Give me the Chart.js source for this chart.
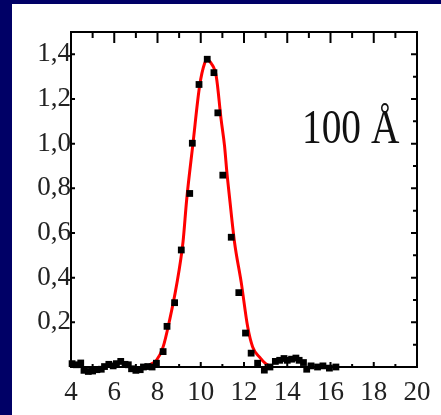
<!DOCTYPE html>
<html>
<head>
<meta charset="utf-8">
<script src="https://cdn.jsdelivr.net/npm/chart.js@4"></script>
<style>
  html, body { margin: 0; padding: 0; background: #000066; width: 441px; height: 415px; overflow: hidden; }
  #panel { position: absolute; left: 12px; top: 4px; width: 429px; height: 411px; background: #fff; }
</style>
</head>
<body>
<div id="panel"><canvas id="chart"></canvas></div>
<script>
// measured intensity (black squares)
const pointX = [4.05, 4.25, 4.45, 4.6, 4.8, 5.0, 5.2, 5.4, 5.55, 5.75, 5.95, 6.1, 6.3, 6.5, 6.65, 6.8, 7.0, 7.2, 7.35, 7.55, 7.75,
                7.95, 8.26, 8.44, 8.79, 9.10, 9.49, 9.61, 9.92, 10.30, 10.61, 10.79, 11.02, 11.41, 11.76, 12.07, 12.33,
                12.63, 12.94, 13.2, 13.45, 13.65, 13.85, 14.0, 14.2, 14.4, 14.55, 14.75, 14.9, 15.1, 15.4, 15.65, 15.95, 16.25];
const pointY = [0.015, 0.010, 0.018, -0.015, -0.020, -0.018, -0.012, -0.010, 0.002, 0.012, 0.005, 0.015, 0.025, 0.012, 0.010, -0.008, -0.015, -0.012, 0.0, 0.002, 0.0,
                0.017, 0.069, 0.182, 0.288, 0.524, 0.777, 1.002, 1.265, 1.378, 1.318, 1.138, 0.859, 0.581, 0.333, 0.152, 0.062,
                0.017, -0.014, 0.0, 0.025, 0.030, 0.038, 0.030, 0.035, 0.040, 0.030, 0.020, -0.010, 0.005, 0.0, 0.005, -0.005, 0.0];

// gaussian fit (red line)
const fitX = [7.64, 7.95, 8.26, 8.56, 8.87, 9.18, 9.35, 9.64, 9.95, 10.18, 10.3, 10.48, 10.72, 10.94, 11.10, 11.21, 11.33, 11.56, 11.87, 12.17, 12.40, 12.71, 13.0, 13.3];
const fitY = [0.01, 0.03, 0.09, 0.21, 0.36, 0.56, 0.75, 1.00, 1.26, 1.36, 1.375, 1.36, 1.30, 1.11, 0.99, 0.87, 0.76, 0.56, 0.38, 0.18, 0.09, 0.045, 0.015, 0.0];

const xTickLabels = [4, 6, 8, 10, 12, 14, 16, 18, 20];
const yTickLabels = [0.2, 0.4, 0.6, 0.8, 1.0, 1.2, 1.4];

const labelFont = { family: "'Liberation Serif', 'DejaVu Serif', serif", size: 27 };

// closed frame with inward ticks on all four sides, plus the size tag
const framePlugin = {
    id: 'frame',
    afterDatasetsDraw(chart) {
        const { ctx, chartArea: a, scales: { x, y } } = chart;
        ctx.save();
        ctx.strokeStyle = '#000';
        ctx.lineWidth = 2;
        ctx.strokeRect(a.left, a.top, a.right - a.left, a.bottom - a.top);

        ctx.beginPath();
        for (let v = x.min; v <= x.max; v++) {
            const px = x.getPixelForValue(v);
            const major = v % 2 === 0;
            ctx.moveTo(px, a.top);
            ctx.lineTo(px, a.top + (major ? 11 : 6));
            ctx.moveTo(px, a.bottom);
            ctx.lineTo(px, a.bottom - (major ? 5 : 3));
        }
        for (let i = 1; i <= 14; i++) {
            const py = y.getPixelForValue(i / 10);
            const major = i % 2 === 0;
            ctx.moveTo(a.right, py);
            ctx.lineTo(a.right - (major ? 6 : 4), py);
            if (major) {
                ctx.moveTo(a.left, py);
                ctx.lineTo(a.left + 4, py);
            }
        }
        ctx.stroke();

        ctx.fillStyle = '#111';
        ctx.font = "48px 'Liberation Serif', serif";
        ctx.textBaseline = 'alphabetic';
        ctx.translate(290, 139);
        ctx.scale(0.82, 1);
        ctx.fillText('100 Å', 0, 0);
        ctx.restore();
    }
};

new Chart(document.getElementById('chart'), {
    type: 'scatter',
    data: {
        datasets: [
            {
                data: pointX.map((v, i) => ({ x: v, y: pointY[i] })),
                pointStyle: 'rect',
                pointRadius: 4.8,
                backgroundColor: '#000',
                borderColor: '#000',
                borderWidth: 0,
                clip: false,
                order: 0
            },
            {
                data: fitX.map((v, i) => ({ x: v, y: fitY[i] })),
                showLine: true,
                borderColor: '#ff0000',
                borderWidth: 3,
                pointRadius: 0,
                cubicInterpolationMode: 'monotone',
                clip: false,
                order: 1
            }
        ]
    },
    options: {
        responsive: true,
        maintainAspectRatio: false,
        animation: false,
        layout: { padding: { top: 28, right: 24, left: 4, bottom: 8 } },
        plugins: { legend: { display: false }, tooltip: { enabled: false } },
        scales: {
            x: {
                type: 'linear',
                min: 4,
                max: 20,
                afterBuildTicks: s => { s.ticks = xTickLabels.map(v => ({ value: v })); },
                afterFit: s => { s.height = 40; },
                grid: { display: false, drawTicks: false },
                border: { display: false },
                ticks: { font: labelFont, color: '#222', padding: 10, maxRotation: 0, autoSkip: false }
            },
            y: {
                type: 'linear',
                min: 0,
                max: 1.5,
                afterBuildTicks: s => { s.ticks = yTickLabels.map(v => ({ value: v })); },
                afterFit: s => { s.width = 55; },
                grid: { display: false, drawTicks: false },
                border: { display: false },
                ticks: {
                    font: labelFont,
                    color: '#222',
                    padding: 0,
                    autoSkip: false,
                    callback: v => v.toFixed(1).replace('.', ',')
                }
            }
        }
    },
    plugins: [framePlugin]
});
</script>
</body>
</html>
